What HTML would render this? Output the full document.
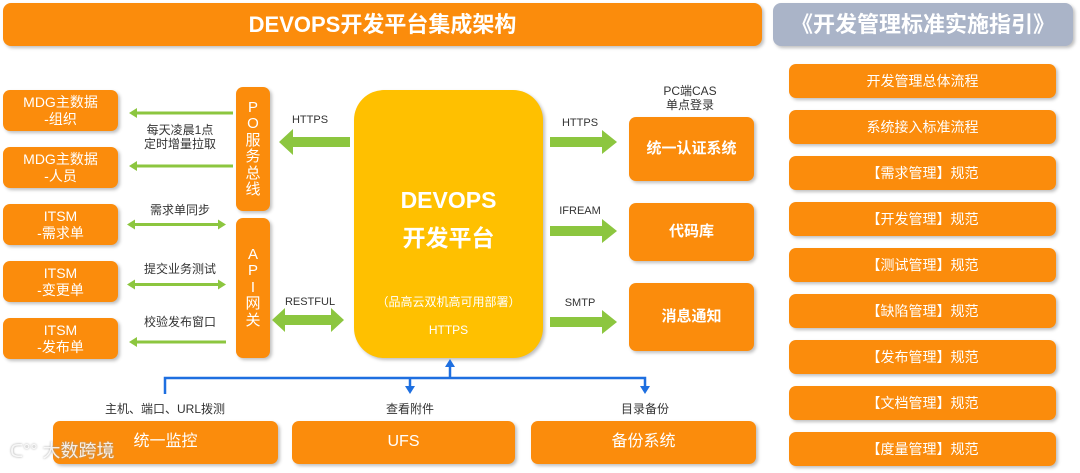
<!DOCTYPE html>
<html><head><meta charset="utf-8"><style>
body{margin:0;width:1080px;height:473px;background:#fff;position:relative;overflow:hidden;font-family:"Liberation Sans","Noto Sans CJK SC",sans-serif}
.b{position:absolute;background:#FB8C0C;color:#fff;display:flex;align-items:center;justify-content:center;text-align:center;border-radius:7px;box-shadow:2px 2px 3px rgba(0,0,0,.25);line-height:1.15}
.t{position:absolute;font-size:12px;color:#333;text-align:center;line-height:1.2}
svg{position:absolute;left:0;top:0}
</style></head><body>
<div class="b" style="left:3px;top:3px;width:759px;height:43px;font-size:22px;font-weight:bold;border-radius:8px">DEVOPS开发平台集成架构</div>
<div class="b" style="left:773px;top:3px;width:300px;height:43px;font-size:22px;font-weight:bold;background:#AAB4C8;border-radius:8px">《开发管理标准实施指引》</div>

<div class="b" style="left:789px;top:64px;width:267px;height:34px;font-size:14px">开发管理总体流程</div>
<div class="b" style="left:789px;top:110px;width:267px;height:34px;font-size:14px">系统接入标准流程</div>
<div class="b" style="left:789px;top:156px;width:267px;height:34px;font-size:14px">【需求管理】规范</div>
<div class="b" style="left:789px;top:202px;width:267px;height:34px;font-size:14px">【开发管理】规范</div>
<div class="b" style="left:789px;top:248px;width:267px;height:34px;font-size:14px">【测试管理】规范</div>
<div class="b" style="left:789px;top:294px;width:267px;height:34px;font-size:14px">【缺陷管理】规范</div>
<div class="b" style="left:789px;top:340px;width:267px;height:34px;font-size:14px">【发布管理】规范</div>
<div class="b" style="left:789px;top:386px;width:267px;height:34px;font-size:14px">【文档管理】规范</div>
<div class="b" style="left:789px;top:432px;width:267px;height:34px;font-size:14px">【度量管理】规范</div>

<div class="b" style="left:3px;top:90px;width:115px;height:41px;font-size:14px">MDG主数据<br>-组织</div>
<div class="b" style="left:3px;top:147px;width:115px;height:41px;font-size:14px">MDG主数据<br>-人员</div>
<div class="b" style="left:3px;top:204px;width:115px;height:41px;font-size:14px">ITSM<br>-需求单</div>
<div class="b" style="left:3px;top:261px;width:115px;height:41px;font-size:14px">ITSM<br>-变更单</div>
<div class="b" style="left:3px;top:318px;width:115px;height:41px;font-size:14px">ITSM<br>-发布单</div>

<div class="b" style="left:236px;top:87px;width:34px;height:124px;font-size:15px;line-height:1.1">P<br>O<br>服<br>务<br>总<br>线</div>
<div class="b" style="left:236px;top:218px;width:34px;height:140px;font-size:15px;line-height:1.1">A<br>P<br>I<br>网<br>关</div>

<div class="b" style="left:354px;top:90px;width:189px;height:268px;background:#FFC000;border-radius:30px;display:block">
<div style="margin-top:92px;font-size:23px;font-weight:bold;line-height:1.65">DEVOPS<br>开发平台</div>
<div style="margin-top:38px;font-size:12px">（品高云双机高可用部署）</div>
<div style="margin-top:14px;font-size:12px">HTTPS</div></div>

<div class="b" style="left:629px;top:117px;width:125px;height:64px;font-size:15px;font-weight:bold">统一认证系统</div>
<div class="b" style="left:629px;top:203px;width:125px;height:58px;font-size:15px;font-weight:bold">代码库</div>
<div class="b" style="left:629px;top:283px;width:125px;height:68px;font-size:15px;font-weight:bold">消息通知</div>

<div class="b" style="left:53px;top:421px;width:225px;height:43px;font-size:16px">统一监控</div>
<div class="b" style="left:292px;top:421px;width:223px;height:43px;font-size:16px">UFS</div>
<div class="b" style="left:531px;top:421px;width:225px;height:43px;font-size:16px">备份系统</div>

<div class="t" style="left:130px;top:123px;width:100px">每天凌晨1点<br>定时增量拉取</div>
<div class="t" style="left:130px;top:203px;width:100px">需求单同步</div>
<div class="t" style="left:130px;top:262px;width:100px">提交业务测试</div>
<div class="t" style="left:130px;top:315px;width:100px">校验发布窗口</div>
<div class="t" style="left:280px;top:114px;width:60px;font-size:11px">HTTPS</div>
<div class="t" style="left:278px;top:296px;width:64px;font-size:11px">RESTFUL</div>
<div class="t" style="left:550px;top:117px;width:60px;font-size:11px">HTTPS</div>
<div class="t" style="left:550px;top:205px;width:60px;font-size:11px">IFREAM</div>
<div class="t" style="left:550px;top:297px;width:60px;font-size:11px">SMTP</div>
<div class="t" style="left:650px;top:84px;width:80px">PC端CAS<br>单点登录</div>
<div class="t" style="left:80px;top:402px;width:170px">主机、端口、URL拨测</div>
<div class="t" style="left:350px;top:402px;width:120px">查看附件</div>
<div class="t" style="left:585px;top:402px;width:120px">目录备份</div>

<svg width="1080" height="473">
<g fill="#8CC63F">
<path d="M233 111.5H137v-3.5l-8 5 8 5v-3.5h96z"/>
<path d="M233 164.5H137v-3.5l-8 5 8 5v-3.5h96z"/>
<path d="M226 340.5H137v-3.5l-8 5 8 5v-3.5h89z"/>
<path d="M127 224.5l8-5v3.5h83v-3.5l8 5-8 5v-3.5h-83v3.5z"/>
<path d="M127 284.5l8-5v3.5h83v-3.5l8 5-8 5v-3.5h-83v3.5z"/>
<path d="M350 137H293v-8l-14 13 14 13v-8h57z"/>
<path d="M272 320l13-12v7h46v-7l13 12-13 12v-7h-46v7z"/>
<path d="M550 137h52v-7l15 12-15 12v-7h-52z"/>
<path d="M550 226h52v-7l15 12-15 12v-7h-52z"/>
<path d="M550 317h52v-7l15 12-15 12v-7h-52z"/>
</g>
<g stroke="#1E6FE0" stroke-width="2.5" fill="none">
<path d="M165 394V378H645V386"/>
<path d="M410 378V386"/>
<path d="M450 378V366"/>
</g>
<g fill="#1E6FE0">
<path d="M405 386h10l-5 8z"/>
<path d="M640 386h10l-5 8z"/>
<path d="M445 367h10l-5-8z"/>
</g>
</svg>
<div style="position:absolute;left:10px;top:437px;font-size:18px;color:rgba(255,255,255,.85);text-shadow:0 0 2px #999">ᑕ°° 大数跨境</div>
</body></html>
